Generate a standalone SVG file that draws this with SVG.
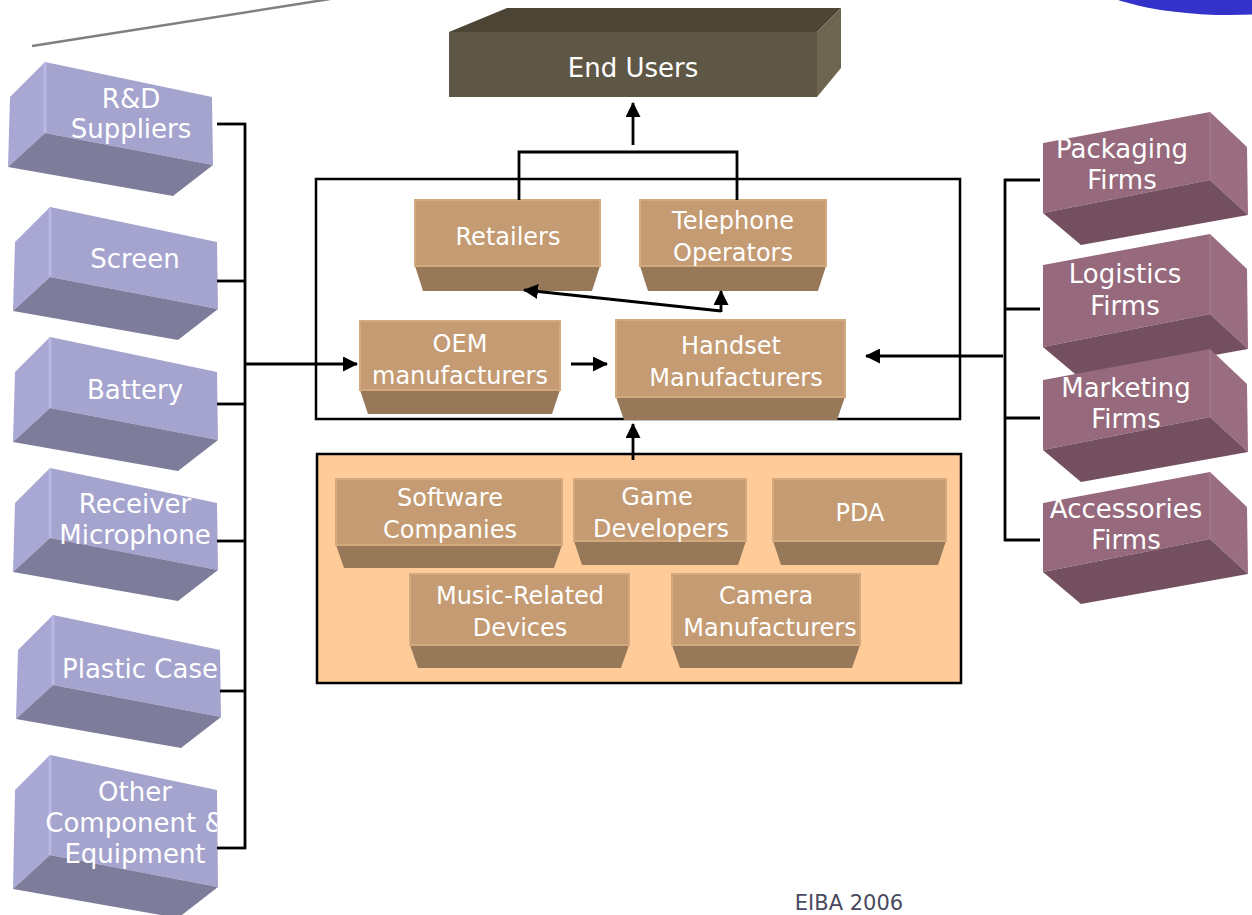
<svg xmlns="http://www.w3.org/2000/svg" width="1252" height="915" viewBox="0 0 1252 915">
<style>
text{font-family:"DejaVu Sans","Liberation Sans",sans-serif;fill:#ffffff;text-anchor:middle}
.t26{font-size:26px}
.t24{font-size:24px}
.pf{fill:#a5a4ce}
.pl{fill:#a9a8d4}
.pd{fill:#7d7c9b}
.pe{stroke:#b9b8e4;stroke-width:3}
.mf{fill:#966a7c}
.mr{fill:#9a6e80}
.md{fill:#734f60}
.me{stroke:#a07688;stroke-width:2}
.bf{fill:#c49b73;stroke:#d3a97e;stroke-width:2}
.bd{fill:#977959}
.ln{fill:none;stroke:#000;stroke-width:2.8}
.ar{fill:none;stroke:#000;stroke-width:2.8;marker-end:url(#ah)}
</style>
<defs>
<marker id="ah" viewBox="0 0 15 15" refX="14" refY="7.5" markerWidth="15" markerHeight="15" markerUnits="userSpaceOnUse" orient="auto">
<path d="M0,0 L15,7.5 L0,15 z" fill="#000"/>
</marker>
<clipPath id="clipOther"><rect x="0" y="740" width="217" height="175"/></clipPath>
</defs>
<rect width="1252" height="915" fill="#ffffff"/>
<!-- decorations -->
<line x1="32" y1="46" x2="330" y2="-1" stroke="#808080" stroke-width="2.5"/>
<ellipse cx="1230" cy="-30" rx="150" ry="45" fill="#3333cc"/>

<!-- containers -->
<rect id="core-group" x="316" y="179" width="644" height="240" fill="none" stroke="#000" stroke-width="2.5"/>
<rect id="complement-group" x="317" y="454" width="644" height="229" fill="#fecb99" stroke="#000" stroke-width="2.5"/>

<!-- End Users -->
<g id="end-users">
<polygon points="449,32 817,32 817,97 449,97" fill="#5f5745"/>
<polygon points="449,32 507,8 841,8 817,32" fill="#4c4535"/>
<polygon points="817,32 841,8 841,68 817,97" fill="#6e6550"/>
<text class="t26" x="633" y="77">End Users</text>
</g>

<!-- left purple suppliers -->
<g id="rd-suppliers" transform="translate(45,62)">
<polygon class="pl" points="-35,35 0,0 0,71 -37,105"/>
<polygon class="pf" points="0,0 167,35 168,103 0,71"/>
<polygon class="pd" points="0,71 168,103 128,134 -37,105"/>
<line class="pe" x1="0" y1="1" x2="0" y2="71"/>
<text class="t26" x="86" y="46">R&amp;D</text>
<text class="t26" x="86" y="76">Suppliers</text>
</g>
<g id="screen" transform="translate(50,207)">
<polygon class="pl" points="-35,35 0,0 0,70 -37,104"/>
<polygon class="pf" points="0,0 167,35 168,102 0,70"/>
<polygon class="pd" points="0,70 168,102 128,133 -37,104"/>
<line class="pe" x1="0" y1="1" x2="0" y2="70"/>
<text class="t26" x="85" y="61">Screen</text>
</g>
<g id="battery" transform="translate(50,337)">
<polygon class="pl" points="-35,35 0,0 0,71 -37,105"/>
<polygon class="pf" points="0,0 167,35 168,103 0,71"/>
<polygon class="pd" points="0,71 168,103 128,134 -37,105"/>
<line class="pe" x1="0" y1="1" x2="0" y2="71"/>
<text class="t26" x="85" y="62">Battery</text>
</g>
<g id="receiver-microphone" transform="translate(50,468)">
<polygon class="pl" points="-35,35 0,0 0,70 -37,104"/>
<polygon class="pf" points="0,0 167,35 168,102 0,70"/>
<polygon class="pd" points="0,70 168,102 128,133 -37,104"/>
<line class="pe" x1="0" y1="1" x2="0" y2="70"/>
<text class="t26" x="85" y="45">Receiver</text>
<text class="t26" x="85" y="76">Microphone</text>
</g>
<g id="plastic-case" transform="translate(53,615)">
<polygon class="pl" points="-35,35 0,0 0,70 -37,104"/>
<polygon class="pf" points="0,0 167,35 168,102 0,70"/>
<polygon class="pd" points="0,70 168,102 128,133 -37,104"/>
<line class="pe" x1="0" y1="1" x2="0" y2="70"/>
<text class="t26" x="87" y="63">Plastic Case</text>
</g>
<g id="other-component" transform="translate(50,755)">
<polygon class="pl" points="-35,35 0,0 0,100 -37,134"/>
<polygon class="pf" points="0,0 167,35 168,132 0,100"/>
<polygon class="pd" points="0,100 168,132 128,163 -37,134"/>
<line class="pe" x1="0" y1="1" x2="0" y2="100"/>
<g clip-path="url(#clipOther)" transform="translate(-50,-755)">
<text class="t26" x="135" y="801">Other</text>
<text class="t26" x="135" y="832">Component &amp;</text>
<text class="t26" x="135" y="863">Equipment</text>
</g>
</g>

<!-- right mauve firms -->
<g id="packaging-firms" transform="translate(1043,143)">
<polygon class="mf" points="0,0 167,-31 167,37 0,70"/>
<polygon class="mr" points="167,-31 204,4 205,72 167,37"/>
<polygon class="md" points="0,70 167,37 205,72 38,102"/>
<line class="me" x1="167" y1="-30" x2="167" y2="37"/>
<text class="t26" x="79" y="15">Packaging</text>
<text class="t26" x="79" y="46">Firms</text>
</g>
<g id="logistics-firms" transform="translate(1043,265)">
<polygon class="mf" points="0,0 167,-31 167,49 0,82"/>
<polygon class="mr" points="167,-31 204,4 205,84 167,49"/>
<polygon class="md" points="0,82 167,49 205,84 38,114"/>
<line class="me" x1="167" y1="-30" x2="167" y2="49"/>
<text class="t26" x="82" y="18">Logistics</text>
<text class="t26" x="82" y="50">Firms</text>
</g>
<g id="marketing-firms" transform="translate(1043,380)">
<polygon class="mf" points="0,0 167,-31 167,37 0,70"/>
<polygon class="mr" points="167,-31 204,4 205,72 167,37"/>
<polygon class="md" points="0,70 167,37 205,72 38,102"/>
<line class="me" x1="167" y1="-30" x2="167" y2="37"/>
<text class="t26" x="83" y="17">Marketing</text>
<text class="t26" x="83" y="48">Firms</text>
</g>
<g id="accessories-firms" transform="translate(1043,503)">
<polygon class="mf" points="0,0 167,-31 167,36 0,69"/>
<polygon class="mr" points="167,-31 204,4 205,71 167,36"/>
<polygon class="md" points="0,69 167,36 205,71 38,101"/>
<line class="me" x1="167" y1="-30" x2="167" y2="36"/>
<text class="t26" x="83" y="15">Accessories</text>
<text class="t26" x="83" y="46">Firms</text>
</g>

<!-- brown core nodes -->
<g id="retailers">
<polygon class="bd" points="415,266 600,266 592,291 423,291"/>
<rect class="bf" x="415" y="200" width="185" height="66"/>
<text class="t24" x="508" y="245">Retailers</text>
</g>
<g id="telephone-operators">
<polygon class="bd" points="640,266 826,266 818,291 648,291"/>
<rect class="bf" x="640" y="200" width="186" height="66"/>
<text class="t24" x="733" y="229">Telephone</text>
<text class="t24" x="733" y="261">Operators</text>
</g>
<g id="oem-manufacturers">
<polygon class="bd" points="360,390 560,390 552,414 368,414"/>
<rect class="bf" x="360" y="321" width="200" height="69"/>
<text class="t24" x="460" y="352">OEM</text>
<text class="t24" x="460" y="384">manufacturers</text>
</g>
<g id="handset-manufacturers">
<polygon class="bd" points="616,397 845,397 837,420 624,420"/>
<rect class="bf" x="616" y="320" width="229" height="77"/>
<text class="t24" x="731" y="354">Handset</text>
<text class="t24" x="736" y="386">Manufacturers</text>
</g>

<!-- brown complement nodes -->
<g id="software-companies">
<polygon class="bd" points="336,545 562,545 554,568 344,568"/>
<rect class="bf" x="336" y="479" width="226" height="66"/>
<text class="t24" x="450" y="506">Software</text>
<text class="t24" x="450" y="538">Companies</text>
</g>
<g id="game-developers">
<polygon class="bd" points="574,541 746,541 738,565 582,565"/>
<rect class="bf" x="574" y="479" width="172" height="62"/>
<text class="t24" x="657" y="505">Game</text>
<text class="t24" x="661" y="537">Developers</text>
</g>
<g id="pda">
<polygon class="bd" points="773,541 946,541 938,565 781,565"/>
<rect class="bf" x="773" y="479" width="173" height="62"/>
<text class="t24" x="860" y="521">PDA</text>
</g>
<g id="music-related-devices">
<polygon class="bd" points="410,645 629,645 621,668 418,668"/>
<rect class="bf" x="410" y="574" width="219" height="71"/>
<text class="t24" x="520" y="604">Music-Related</text>
<text class="t24" x="520" y="636">Devices</text>
</g>
<g id="camera-manufacturers">
<polygon class="bd" points="672,645 860,645 852,668 680,668"/>
<rect class="bf" x="672" y="574" width="188" height="71"/>
<text class="t24" x="766" y="604">Camera</text>
<text class="t24" x="770" y="636">Manufacturers</text>
</g>

<!-- connectors -->
<g id="connectors">
<line class="ar" x1="633" y1="145" x2="633" y2="103"/>
<polyline class="ln" points="519,200 519,152 737,152 737,200"/>
<line class="ar" x1="721" y1="311" x2="524" y2="290"/>
<line class="ar" x1="721" y1="312" x2="721" y2="291"/>
<line class="ln" x1="245" y1="123" x2="245" y2="849"/>
<line class="ln" x1="217" y1="124" x2="246" y2="124"/>
<line class="ln" x1="217" y1="281" x2="246" y2="281"/>
<line class="ln" x1="217" y1="404" x2="246" y2="404"/>
<line class="ln" x1="217" y1="541" x2="246" y2="541"/>
<line class="ln" x1="220" y1="691" x2="246" y2="691"/>
<line class="ln" x1="217" y1="848" x2="246" y2="848"/>
<line class="ar" x1="245" y1="364" x2="357" y2="364"/>
<line class="ar" x1="571" y1="364" x2="607" y2="364"/>
<line class="ln" x1="1005" y1="179" x2="1005" y2="541"/>
<line class="ln" x1="1004" y1="180" x2="1040" y2="180"/>
<line class="ln" x1="1004" y1="309" x2="1040" y2="309"/>
<line class="ln" x1="1004" y1="418" x2="1040" y2="418"/>
<line class="ln" x1="1004" y1="540" x2="1040" y2="540"/>
<line class="ar" x1="1003" y1="356" x2="866" y2="356"/>
<line class="ar" x1="633" y1="460" x2="633" y2="424"/>
</g>

<text x="849" y="910" style="font-size:21px;fill:#4a4a60">EIBA 2006</text>
</svg>
